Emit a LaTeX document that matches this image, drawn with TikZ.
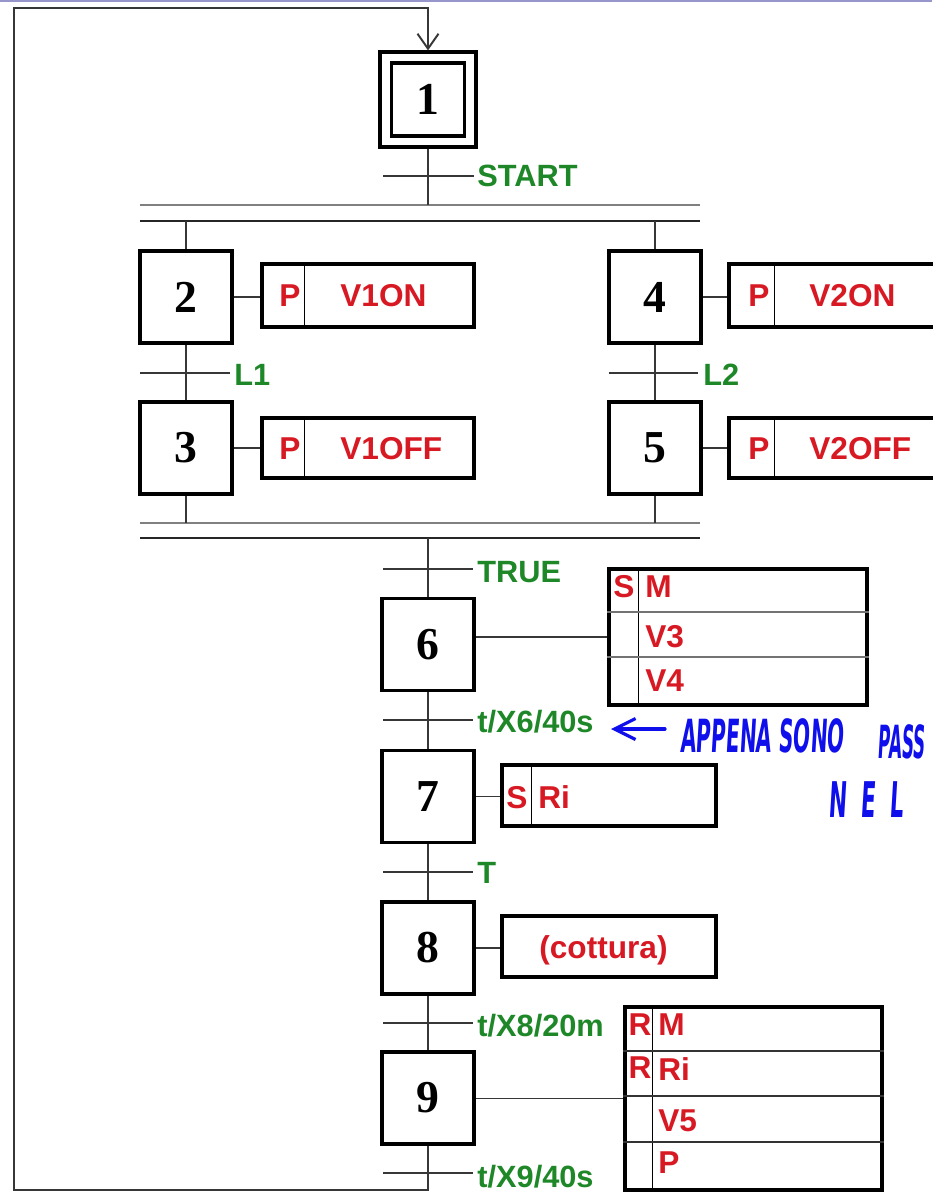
\documentclass[tikz,border=0pt]{standalone}
\usepackage{fontspec}
\setmainfont{Liberation Sans}
\newfontfamily\stepfont{Liberation Serif}
\newfontfamily\handfont[FakeStretch=0.44,FakeSlant=0.06]{DejaVu Sans}
\newfontfamily\handnarrow[FakeStretch=0.37,FakeSlant=0.06]{DejaVu Sans}
\usetikzlibrary{arrows.meta,positioning}
\definecolor{grafgreen}{RGB}{30,135,40}
\definecolor{grafred}{RGB}{215,25,35}
\definecolor{inkblue}{RGB}{15,15,235}
\definecolor{wire}{RGB}{55,55,55}
\definecolor{framelav}{RGB}{150,150,205}

\begin{document}
\begin{tikzpicture}[x=0.02cm, y=-0.02cm,
  stepbox/.style={rectangle, draw, line width=1.8pt, minimum width=1.84cm, minimum height=1.84cm, inner sep=0pt, font=\stepfont\bfseries\fontsize{26}{26}\selectfont},
  initstep/.style={stepbox, minimum width=1.92cm, minimum height=1.9cm},
  innerbox/.style={rectangle, draw, line width=1.8pt, minimum width=1.46cm, minimum height=1.46cm, inner sep=0pt},
  actbox/.style={rectangle, draw, line width=1.8pt, inner sep=0pt},
  divider/.style={line width=0.6pt},
  rowline/.style={draw=black!55, line width=1.1pt},
  link/.style={draw=wire, line width=1.1pt},
  bar/.style={draw=wire, line width=1.1pt},
  syncgray/.style={draw=black!50, line width=1.5pt},
  syncdark/.style={draw=black!85, line width=1.4pt},
  cond/.style={anchor=base west, inner sep=0pt, text=grafgreen, font=\bfseries\fontsize{17.5}{17.5}\selectfont},
  act/.style={anchor=base west, inner sep=0pt, text=grafred, font=\bfseries\fontsize{18}{18}\selectfont},
  qual/.style={anchor=base, inner sep=0pt, text=grafred, font=\bfseries\fontsize{18}{18}\selectfont},
  note/.style={anchor=base west, inner sep=0pt, text=inkblue, font=\handfont\bfseries\fontsize{26}{26}\selectfont},
  inkarrow/.style={draw=inkblue, line width=1.8pt, line cap=round, line join=round, -{Straight Barb[length=0.42cm, width=0.42cm, line width=1.8pt]}}
]
  \useasboundingbox (0,0) rectangle (932,1192);
  \draw[framelav, line width=1.2pt] (0,1) -- (932,1);

  % Steps
  \node[initstep] (s1) at (428,99.5) {1};
  \node[innerbox] (s1in) at (s1) {};
  \node[stepbox] (s2) at (186,297) {2};
  \node[stepbox] (s3) at (186,448) {3};
  \node[stepbox] (s4) at (655,297) {4};
  \node[stepbox] (s5) at (655,448) {5};
  \node[stepbox] (s6) at (428,644.5) {6};
  \node[stepbox] (s7) at (428,796.5) {7};
  \node[stepbox] (s8) at (428,948) {8};
  \node[stepbox] (s9) at (428,1098) {9};

  % Parallel branches
  \coordinate (divA) at (140,205);
  \coordinate (divB) at (700,205);
  \coordinate (divC) at (140,221);
  \coordinate (divD) at (700,221);
  \coordinate (convA) at (140,523);
  \coordinate (convB) at (700,523);
  \coordinate (convC) at (140,538);
  \coordinate (convD) at (700,538);
  \draw[syncgray] (divA) -- (divB);
  \draw[syncdark] (divC) -- (divD);
  \draw[syncgray] (convA) -- (convB);
  \draw[syncdark] (convC) -- (convD);

  % Links between steps
  \draw[link] (s1) -- (s1 |- divA);
  \draw[link] (s2 |- divC) -- (s2);
  \draw[link] (s4 |- divC) -- (s4);
  \draw[link] (s2) -- (s3);
  \draw[link] (s4) -- (s5);
  \draw[link] (s3) -- (s3 |- convA);
  \draw[link] (s5) -- (s5 |- convA);
  \draw[link] (s6 |- convC) -- (s6);
  \draw[link] (s6) -- (s7);
  \draw[link] (s7) -- (s8);
  \draw[link] (s8) -- (s9);

  % Loop back to step 1
  \coordinate (loopend) at (428,1190);
  \coordinate (loopL) at (14,1190);
  \coordinate (loopT) at (14,8);
  \draw[link, -{Straight Barb[length=0.3cm, width=0.42cm, line width=1.1pt]}] (s9) -- (loopend) -- (loopL) -- (loopT) -| (s1.north);

  % Transitions
  \coordinate (t1) at (428,176);
  \coordinate (t2) at (186,373);
  \coordinate (t4) at (655,373);
  \coordinate (t5) at (428,569);
  \coordinate (t6) at (428,720);
  \coordinate (t7) at (428,872);
  \coordinate (t8) at (428,1023);
  \coordinate (t9) at (428,1173);
  \draw[bar] ([xshift=-0.9cm]t1) -- ([xshift=0.92cm]t1);
  \draw[bar] ([xshift=-0.92cm]t2) -- ([xshift=0.88cm]t2);
  \draw[bar] ([xshift=-0.92cm]t4) -- ([xshift=0.86cm]t4);
  \draw[bar] ([xshift=-0.9cm]t5) -- ([xshift=0.9cm]t5);
  \draw[bar] ([xshift=-0.9cm]t6) -- ([xshift=0.9cm]t6);
  \draw[bar] ([xshift=-0.9cm]t7) -- ([xshift=0.9cm]t7);
  \draw[bar] ([xshift=-0.9cm]t8) -- ([xshift=0.9cm]t8);
  \draw[bar] ([xshift=-0.9cm]t9) -- ([xshift=0.9cm]t9);
  \node[cond] (c1) at (477,187) {START};
  \node[cond] (c2) at (234,385) {L1};
  \node[cond] (c4) at (703,385) {L2};
  \node[cond] (c5) at (477,582) {TRUE};
  \node[cond] (c6) at (477,732) {t/X6/40s};
  \node[cond] (c7) at (477,883) {T};
  \node[cond] (c8) at (477,1036) {t/X8/20m};
  \node[cond] (c9) at (477,1187) {t/X9/40s};

  % Actions
  \node[actbox, minimum width=4.24cm, minimum height=1.26cm] (a2) at (368,295.5) {};
  \node[actbox, minimum width=4.24cm, minimum height=1.2cm] (a3) at (368,448) {};
  \node[actbox, minimum width=4.24cm, minimum height=1.26cm] (a4) at (835,295.5) {};
  \node[actbox, minimum width=4.24cm, minimum height=1.2cm] (a5) at (835,448) {};
  \node[actbox, minimum width=5.16cm, minimum height=2.72cm] (a6) at (738,637) {};
  \node[actbox, minimum width=4.28cm, minimum height=1.22cm] (a7) at (609,795.5) {};
  \node[actbox, minimum width=4.28cm, minimum height=1.22cm] (a8) at (609,946.5) {};
  \node[actbox, minimum width=5.14cm, minimum height=3.66cm] (a9) at (753.5,1098.5) {};

  \draw[divider] ([xshift=0.88cm]a2.north west) -- ([xshift=0.88cm]a2.south west);
  \draw[divider] ([xshift=0.88cm]a3.north west) -- ([xshift=0.88cm]a3.south west);
  \draw[divider] ([xshift=0.94cm]a4.north west) -- ([xshift=0.94cm]a4.south west);
  \draw[divider] ([xshift=0.94cm]a5.north west) -- ([xshift=0.94cm]a5.south west);
  \draw[divider] ([xshift=0.62cm]a6.north west) -- ([xshift=0.62cm]a6.south west);
  \draw[divider] ([xshift=0.62cm]a7.north west) -- ([xshift=0.62cm]a7.south west);
  \draw[divider] ([xshift=0.58cm]a9.north west) -- ([xshift=0.58cm]a9.south west);
  \draw[rowline] ([yshift=-0.9cm]a6.north west) -- ([yshift=-0.9cm]a6.north east);
  \draw[rowline] ([yshift=-1.8cm]a6.north west) -- ([yshift=-1.8cm]a6.north east);
  \draw[rowline, draw=black!80] ([yshift=-0.92cm]a9.north west) -- ([yshift=-0.92cm]a9.north east);
  \draw[rowline, draw=black!80] ([yshift=-1.82cm]a9.north west) -- ([yshift=-1.82cm]a9.north east);
  \draw[rowline, draw=black!80] ([yshift=-2.74cm]a9.north west) -- ([yshift=-2.74cm]a9.north east);

  \draw[link] (s2.east) -- (s2.east -| a2.west);
  \draw[link] (s3.east) -- (s3.east -| a3.west);
  \draw[link] (s4.east) -- (s4.east -| a4.west);
  \draw[link] (s5.east) -- (s5.east -| a5.west);
  \draw[link] (a6.west -| s6.east) -- (a6.west);
  \draw[link] (s7.east) -- (s7.east -| a7.west);
  \draw[link] (s8.east) -- (s8.east -| a8.west);
  \draw[link] (a9.west -| s9.east) -- (a9.west);

  \node[qual] (q2) at (290,307) {P};
  \node[act] (v2) at (340,307) {V1ON};
  \node[qual] (q3) at (290,459) {P};
  \node[act] (v3) at (340,459) {V1OFF};
  \node[qual] (q4) at (759,307) {P};
  \node[act] (v4) at (809,307) {V2ON};
  \node[qual] (q5) at (759,459) {P};
  \node[act] (v5) at (809,459) {V2OFF};
  \node[qual] (q6) at (624,597) {S};
  \node[act] (v6a) at (645,597) {M};
  \node[act] (v6b) at (645,647) {V3};
  \node[act] (v6c) at (645,691) {V4};
  \node[qual] (q7) at (517,808) {S};
  \node[act] (v7) at (538,808) {Ri};
  \node[act] (v8) at (539,958) {(cottura)};
  \node[qual] (q9a) at (640,1035) {R};
  \node[act] (v9a) at (658,1035) {M};
  \node[qual] (q9b) at (640,1078) {R};
  \node[act] (v9b) at (658,1080) {Ri};
  \node[act] (v9c) at (658,1131) {V5};
  \node[act] (v9d) at (658,1173) {P};

  % Handwritten note
  \coordinate (arrtail) at (665,729);
  \coordinate (arrtip) at (611,729);
  \draw[inkarrow] (arrtail) -- (arrtip);
  \node[note] (note1) at (680,752) {APPENA SONO};
  \node[note, font=\handnarrow\bfseries\fontsize{26}{26}\selectfont] (note2) at (877,758) {PASS};
  \node[note, font=\handfont\bfseries\fontsize{28}{28}\selectfont] (note3) at (828,817) {N\hspace{8pt}E\hspace{8pt}L};
\end{tikzpicture}
\end{document}
